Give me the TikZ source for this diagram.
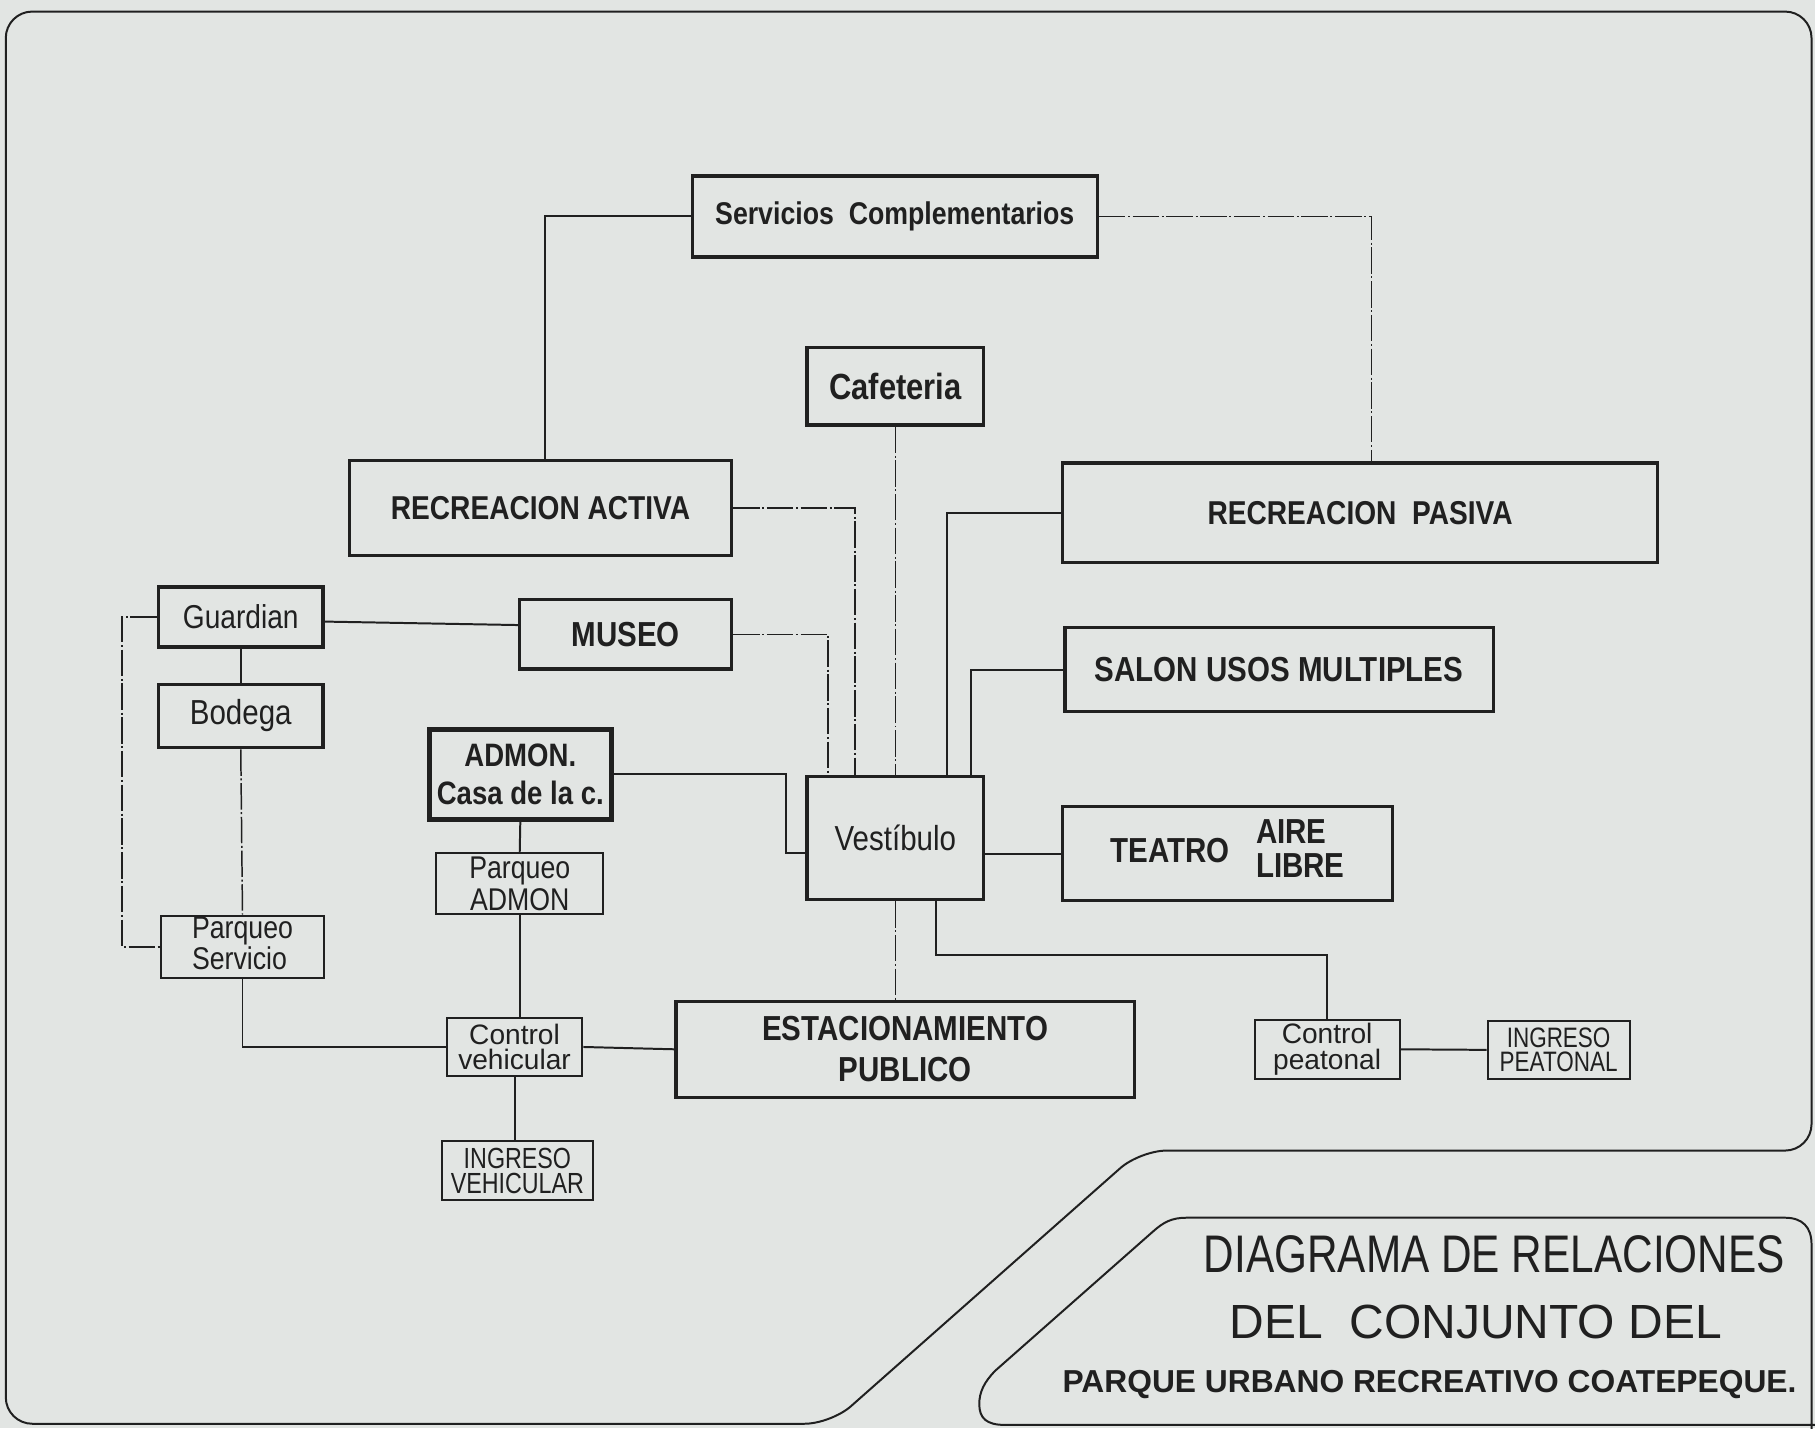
\documentclass[tikz,border=0pt]{standalone}
\usepackage{fontspec}
\setmainfont{Liberation Sans}
\newfontfamily\rotulo[FakeStretch=0.85]{Liberation Sans}
\newfontfamily\titulo[FakeStretch=0.8]{Liberation Sans}
\usetikzlibrary{calc}
\definecolor{tinta}{RGB}{32,32,32}
\definecolor{papel}{RGB}{226,229,227}
\newcommand\tam[2]{\fontsize{#1}{#2}\selectfont}
\tikzset{every picture/.style={line width=0.75pt},
  caja/.style={draw=tinta, line width=1pt, inner sep=0pt, align=center, text=tinta},
  cajafina/.style={caja, line width=0.6pt},
  enlace/.style={draw=tinta, line width=0.6pt},
  guia/.style={draw=tinta, line width=0.45pt, dash pattern=on 8pt off 0.8pt on 0.6pt off 0.8pt},
  marco/.style={draw=tinta, line width=0.6pt, rounded corners=8pt},
  rotulo/.style={text=tinta, inner sep=0pt}}

\begin{document}
\begin{tikzpicture}[x=0.35pt,y=0.35pt,yscale=-1,xscale=1]
        \useasboundingbox (0,0) rectangle (1568,1234);
        \fill[papel] (0,0) rectangle (1568,1234);
        \clip (0,0) rectangle (1568,1234);

        %Shape: outer frame
        \draw[marco] (5,600) -- (5,10) -- (1565,10) -- (1565,994) -- (985,994) -- (718,1230) -- (5,1230) -- cycle;
        %Shape: title frame
        \draw[enlace] (1565,1260) -- (1565,1075) .. controls (1565,1060) and (1557,1052) .. (1542,1052) -- (1025,1052) .. controls (1012,1052) and (1005,1056) .. (996,1064) -- (860,1184) .. controls (850,1194) and (846,1203) .. (846,1213) .. controls (846,1225) and (852,1231) .. (868,1231) -- (1600,1231);

        %Shape: Rectangles
        \node[caja, minimum width=122.5pt, minimum height=24.5pt, font=\rotulo\bfseries\tam{9.5}{11}] (serv) at (773,187) {Servicios\ \ Complementarios};
        \node[caja, minimum width=53.5pt, minimum height=23.5pt, font=\rotulo\bfseries\tam{11}{12}] (cafe) at (773.5,333.5) {Cafeteria};
        \node[caja, minimum width=115.5pt, minimum height=28.7pt, font=\rotulo\bfseries\tam{10}{12}] (ractiva) at (467,439) {RECREACION ACTIVA};
        \node[caja, minimum width=179.9pt, minimum height=30.1pt, font=\rotulo\bfseries\tam{10}{12}] (rpasiva) at (1175,443) {RECREACION\ \ PASIVA};
        \node[caja, minimum width=49.7pt, minimum height=18.2pt, font=\rotulo\tam{10}{12}] (guardian) at (208,533) {Guardian};
        \node[caja, minimum width=64pt, minimum height=21pt, font=\rotulo\bfseries\tam{10.5}{12}] (museo) at (540.5,548) {MUSEO};
        \node[caja, minimum width=49.7pt, minimum height=19.2pt, font=\rotulo\tam{10.5}{12}] (bodega) at (208,618.5) {Bodega};
        \node[caja, minimum width=129.5pt, minimum height=25.5pt, font=\rotulo\bfseries\tam{10.5}{12}] (salon) at (1105,578.5) {SALON USOS MULTIPLES};
        \node[caja, line width=1.4pt, minimum width=55pt, minimum height=27.3pt, font=\rotulo\bfseries\tam{9.8}{11.5}] (admon) at (449.5,669) {ADMON.\\Casa de la c.};
        \node[caja, minimum width=53.5pt, minimum height=37.1pt, font=\rotulo\tam{10.5}{12}] (vest) at (773.5,724) {Vestíbulo};
        \node[caja, minimum width=99.8pt, minimum height=28.4pt, font=\rotulo\bfseries\tam{10.5}{10}] (teatro) at (1060.5,737.5) {TEATRO\hspace{8pt}\begin{tabular}{@{}l@{}}AIRE\\LIBRE\end{tabular}};
        \node[cajafina, minimum width=50.4pt, minimum height=18.5pt, font=\rotulo\tam{9.5}{7.6}] (padmon) at (449,763.5) {Parqueo\\ADMON};
        \node[cajafina, minimum width=49.4pt, minimum height=18.9pt, font=\rotulo\tam{9.5}{7.6}] (pserv) at (209.5,818) {\begin{tabular}{@{}l@{}}Parqueo\\Servicio\end{tabular}};
        \node[cajafina, minimum width=41pt, minimum height=17.8pt, font=\tam{8.5}{7.6}] (cveh) at (444.5,904.5) {Control\\vehicular};
        \node[caja, minimum width=138.6pt, minimum height=29pt, font=\rotulo\bfseries\tam{10.5}{12.3}] (estac) at (782,906.5) {ESTACIONAMIENTO\\PUBLICO};
        \node[cajafina, minimum width=43.8pt, minimum height=17.8pt, font=\tam{8.5}{7.6}] (cpeat) at (1146.5,906.5) {Control\\peatonal};
        \node[cajafina, minimum width=43pt, minimum height=17.5pt, font=\titulo\tam{8.5}{7.2}] (ingpeat) at (1346.5,907) {INGRESO\\PEATONAL};
        \node[cajafina, minimum width=45.5pt, minimum height=17.8pt, font=\titulo\tam{8.8}{7.6}] (ingveh) at (447,1011.5) {INGRESO\\VEHICULAR};

        %Text: title
        \node[rotulo, font=\titulo\tam{16}{18}] (tit1) at (1291,1084) {DIAGRAMA DE RELACIONES};
        \node[rotulo, font=\tam{14.5}{16}] (tit2) at (1275,1142) {DEL\ \ CONJUNTO DEL};
        \node[rotulo, font=\bfseries\tam{9.6}{11}] (tit3) at (1235,1196) {PARQUE URBANO RECREATIVO COATEPEQUE.};

        %Straight Lines: upper links
        \draw[enlace] (serv.west) -| ($(ractiva.north)+(4,0)$);
        \draw[guia] (serv.east) -| ($(rpasiva.north)+(10,0)$);
        \draw[guia] (cafe.south) -- (vest.north);
        \draw[guia] (ractiva.east) -| ($(vest.north)+(-35,0)$);
        \draw[enlace] (rpasiva.west) -| ($(vest.north)+(45,0)$);
        \draw[guia] (museo.east) -| ($(vest.north)+(-58,0)$);
        \draw[enlace] (salon.west) -| ($(vest.north)+(65,0)$);
        \draw[enlace] (teatro.west) -- (teatro.west -| vest.east);
        \draw[enlace] (admon.east) -| ($(vest.west)+(-17,13)$) -- ($(vest.west)+(0,13)$);
        \draw[guia] (vest.south) -- (vest.south |- estac.north);
        \draw[enlace] ($(vest.south)+(35,0)$) -- ++(0,47) -| (cpeat.north);
        \draw[enlace] (cpeat.east) -- (ingpeat.west);

        %Straight Lines: left side
        \draw[enlace] ($(guardian.east)+(0,4)$) -- ($(museo.west)+(0,-8)$);
        \draw[guia] (guardian.west) -- ++(-30,0) |- (pserv.west);
        \draw[enlace] (guardian.south) -- (bodega.north);
        \draw[guia] (bodega.south) -- (pserv.north);
        \draw[enlace] (pserv.south) |- (cveh.west);
        \draw[enlace] (admon.south) -- (padmon.north);
        \draw[enlace] (padmon.south) -- (padmon.south |- cveh.north);
        \draw[enlace] (cveh.east) -- (estac.west);
        \draw[enlace] (cveh.south) -- (cveh.south |- ingveh.north);

    \end{tikzpicture}
\end{document}
